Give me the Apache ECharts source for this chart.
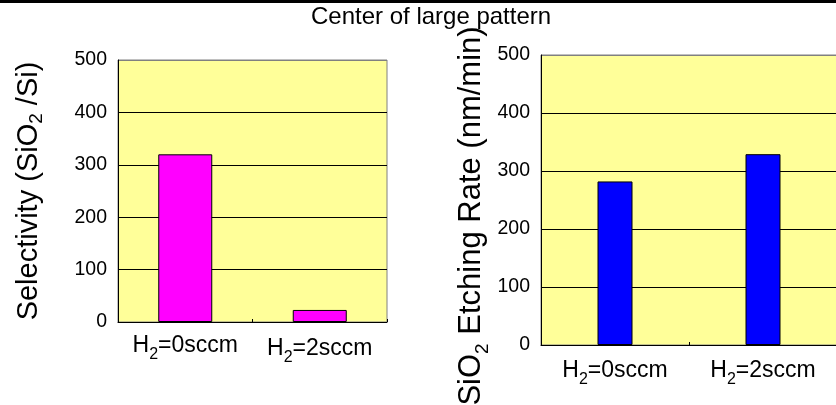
<!DOCTYPE html>
<html><head><meta charset="utf-8">
<script src="https://cdn.jsdelivr.net/npm/echarts@6/dist/echarts.min.js"></script>
<style>html,body{margin:0;padding:0;background:#fff}#c{width:836px;height:405px}</style>
</head><body><div id="c"></div>
<script>
// ---- data ----
const categories = ['H₂=0sccm', 'H₂=2sccm'];
const selectivity = [320, 23];
const etchRate = [282, 329];
const yMin = 0, yMax = 500, yStep = 100;
const chartTitle = 'Center of large pattern';
const leftAxisName = ['Selectivity (SiO', '2', ' /Si)'];
const rightAxisName = ['SiO', '2', ' Etching Rate (nm/min)'];

const FONT = '"Liberation Sans", Arial, sans-serif';
const chart = echarts.init(document.getElementById('c'), null, {renderer: 'canvas'});

function catLabel(v) {
  const p = v.split('₂');
  return '{m|' + p[0] + '}{s|2}{m|' + p[1] + '}';
}
const xRich = {
  m: {fontSize: 23, lineHeight: 23, verticalAlign: 'top', fontFamily: FONT, color: '#000'},
  s: {fontSize: 16, lineHeight: 29, verticalAlign: 'top', padding: [13, 0, 0, 0], fontFamily: FONT, color: '#000'}
};
const gridLineColors = ['#000', '#000', '#000', '#000', '#000', '#808080'];

function xAxisCfg(gridIndex, margin, shiftSecond) {
  return {
    type: 'category', gridIndex: gridIndex,
    data: categories.map((c, i) => (shiftSecond && i === 1) ? {value: c, textStyle: {padding: [3, 0, 0, 0]}} : c),
    boundaryGap: true,
    axisLine: {show: true, lineStyle: {color: '#000', width: 1}},
    axisTick: {show: true, inside: true, length: 3, lineStyle: {color: '#000'}},
    axisLabel: {interval: 0, hideOverlap: false, margin: margin, formatter: catLabel, rich: xRich, fontSize: 23, fontFamily: FONT, color: '#000'},
    splitLine: {show: false}
  };
}
function yAxisCfg(gridIndex, nameParts, fs, subPad, nameGap, pad) {
  return {
    type: 'value', gridIndex: gridIndex, min: yMin, max: yMax, interval: yStep,
    name: '{t|' + nameParts[0] + '}{s|' + nameParts[1] + '}{t|' + nameParts[2] + '}',
    nameLocation: 'middle', nameRotate: 90, nameGap: nameGap,
    nameTextStyle: {
      padding: pad,
      rich: {
        t: {fontSize: fs, lineHeight: fs, verticalAlign: 'top', fontFamily: FONT, color: '#000'},
        s: {fontSize: 19, lineHeight: subPad + 19, padding: [subPad, 0, 0, 0], verticalAlign: 'top', fontFamily: FONT, color: '#000'}
      }
    },
    axisLine: {show: true, lineStyle: {color: '#000', width: 1}},
    axisTick: {show: false},
    axisLabel: {margin: 11, fontSize: 19.5, fontFamily: FONT, color: '#000'},
    splitLine: {show: true, lineStyle: {color: gridLineColors, width: 1}}
  };
}

chart.setOption({
  animation: false,
  backgroundColor: '#fff',
  title: {
    text: chartTitle, left: 311, top: 5, padding: 0,
    textStyle: {fontSize: 24, fontWeight: 'normal', fontFamily: FONT, color: '#000'}
  },
  graphic: [{type: 'rect', left: 0, top: 0, shape: {width: 836, height: 3}, style: {fill: '#000'}, silent: true}],
  grid: [
    {left: 118, top: 60, width: 269, height: 262, show: true, backgroundColor: '#FFFF99', borderColor: '#808080', borderWidth: 1, outerBoundsMode: 'none', containLabel: false},
    {left: 541, top: 55, width: 296, height: 290, show: true, backgroundColor: '#FFFF99', borderColor: '#808080', borderWidth: 1, outerBoundsMode: 'none', containLabel: false}
  ],
  xAxis: [xAxisCfg(0, 12, true), xAxisCfg(1, 14, false)],
  yAxis: [
    yAxisCfg(0, leftAxisName, 29, 13, 72, [0, 0, 0, 0]),
    yAxisCfg(1, rightAxisName, 31, 17, 49, [0, 32, 0, 0])
  ],
  series: [
    {type: 'bar', xAxisIndex: 0, yAxisIndex: 0, data: selectivity, barWidth: 54,
     itemStyle: {color: '#FF00FF', borderColor: '#000', borderWidth: 1}},
    {type: 'bar', xAxisIndex: 1, yAxisIndex: 1, data: etchRate, barWidth: 35,
     itemStyle: {color: '#0000FF', borderColor: '#000', borderWidth: 1}}
  ]
});
</script>
</body></html>
